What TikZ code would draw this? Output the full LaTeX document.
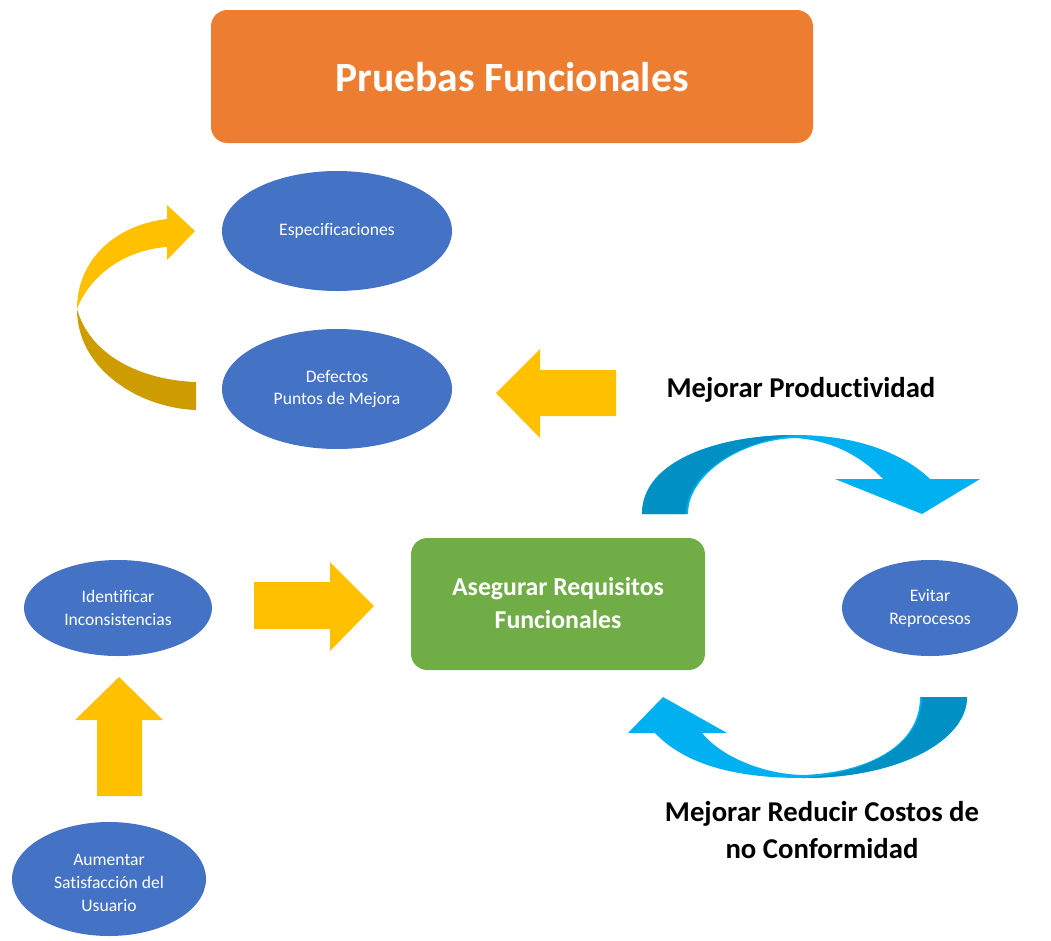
\documentclass[tikz,border=0pt]{standalone}
\usepackage{fontspec}
\setmainfont{Carlito}[Ligatures={NoCommon}]
\usepackage{tikz}
\definecolor{titleOrange}{RGB}{237,125,49}
\definecolor{nodeBlue}{RGB}{68,114,196}
\definecolor{boxGreen}{RGB}{112,173,71}
\definecolor{arrowGold}{RGB}{255,192,0}
\definecolor{arrowDark}{RGB}{204,156,0}
\definecolor{ribbonBlue}{RGB}{0,176,240}
\definecolor{ribbonDark}{RGB}{0,144,196}

\begin{document}
\begin{tikzpicture}[x=0.03cm, y=-0.03cm,
    bubble/.style={text=white, align=center,
      font=\fontsize{15}{19.5}\selectfont, inner sep=0pt},
    biglabel/.style={font=\bfseries\fontsize{24.5}{32}\selectfont, align=center}]
  \useasboundingbox (0,0) rectangle (1051,940);
  % Title and centre box
  \fill[titleOrange, rounded corners=14] (211,10) rectangle (813,143);
  \node[text=white, font=\bfseries\fontsize{35.5}{40}\selectfont] (title) at (512,77) {Pruebas Funcionales};
  \fill[boxGreen, rounded corners=14] (411,538) rectangle (705,670);
  \node[text=white, align=center, font=\bfseries\fontsize{22}{27.5}\selectfont] (goal) at (558,603) {Asegurar Requisitos\\Funcionales};
  % Ellipses
  \fill[nodeBlue] (337,231) ellipse [x radius=115, y radius=60];
  \node[bubble] (spec) at (337,231) {Especificaciones};
  \fill[nodeBlue] (337,389) ellipse [x radius=115, y radius=60];
  \node[bubble] (defect) at (337,389) {Defectos\\Puntos de Mejora};
  \fill[nodeBlue] (118,608) ellipse [x radius=94, y radius=48];
  \node[bubble] (ident) at (118,608) {Identificar\\Inconsistencias};
  \fill[nodeBlue] (109,879) ellipse [x radius=97, y radius=57];
  \node[bubble] (user) at (109,883) {Aumentar\\Satisfacción del\\Usuario};
  \fill[nodeBlue] (930,608) ellipse [x radius=88, y radius=48];
  \node[bubble] (rework) at (930,608) {Evitar\\Reprocesos};
  % Block arrows
  \fill[arrowGold] (616,370) -- (540,370) -- (540,349) -- (496,393) -- (540,438) -- (540,416) -- (616,416) -- cycle;
  \fill[arrowGold] (254,582) -- (330,582) -- (330,562) -- (374,606) -- (330,651) -- (330,629) -- (254,629) -- cycle;
  \fill[arrowGold] (97,796) -- (97,720) -- (75,720) -- (119,677) -- (163,720) -- (142,720) -- (142,796) -- cycle;
  % Curved arrow, left
  \fill[arrowDark] (77,309) .. controls (77,370) and (140,408) .. (196,410) -- (196,382)
    .. controls (140,380) and (90,355) .. (77,309) -- cycle;
  \fill[arrowGold] (77,309) .. controls (77,260) and (115,225) .. (167,219) -- (167,205) -- (195,231)
    -- (167,260) -- (167,247) .. controls (125,250) and (90,275) .. (77,309) -- cycle;
  % Curved arrow, top right
  \fill[ribbonBlue] (642,514) .. controls (642,460) and (720,435) .. (795,435)
    .. controls (860,435) and (905,455) .. (930,479) -- (980,479) -- (922,514) -- (835,479) -- (883,479)
    .. controls (860,455) and (830,440) .. (795,438)
    .. controls (740,440) and (688,475) .. (688,514) -- cycle;
  \fill[ribbonDark] (642,514) .. controls (642,460) and (720,435) .. (795,435)
    .. controls (735,442) and (686,475) .. (686,514) -- cycle;
  % Curved arrow, bottom right
  \fill[ribbonBlue] (967,697) .. controls (967,740) and (900,778) .. (803,778)
    .. controls (750,778) and (690,770) .. (655,733) -- (628,733) -- (663,697) -- (727,733) -- (702,733)
    .. controls (720,755) and (760,774) .. (803,775)
    .. controls (860,773) and (920,750) .. (920,697) -- cycle;
  \fill[ribbonDark] (967,697) .. controls (967,740) and (900,778) .. (803,778)
    .. controls (870,772) and (922,745) .. (922,697) -- cycle;
  % Labels
  \node[biglabel] (prod) at (801,390) {Mejorar Productividad};
  \node[biglabel] (cost) at (822,830) {Mejorar Reducir Costos de\\no Conformidad};
\end{tikzpicture}
\end{document}
